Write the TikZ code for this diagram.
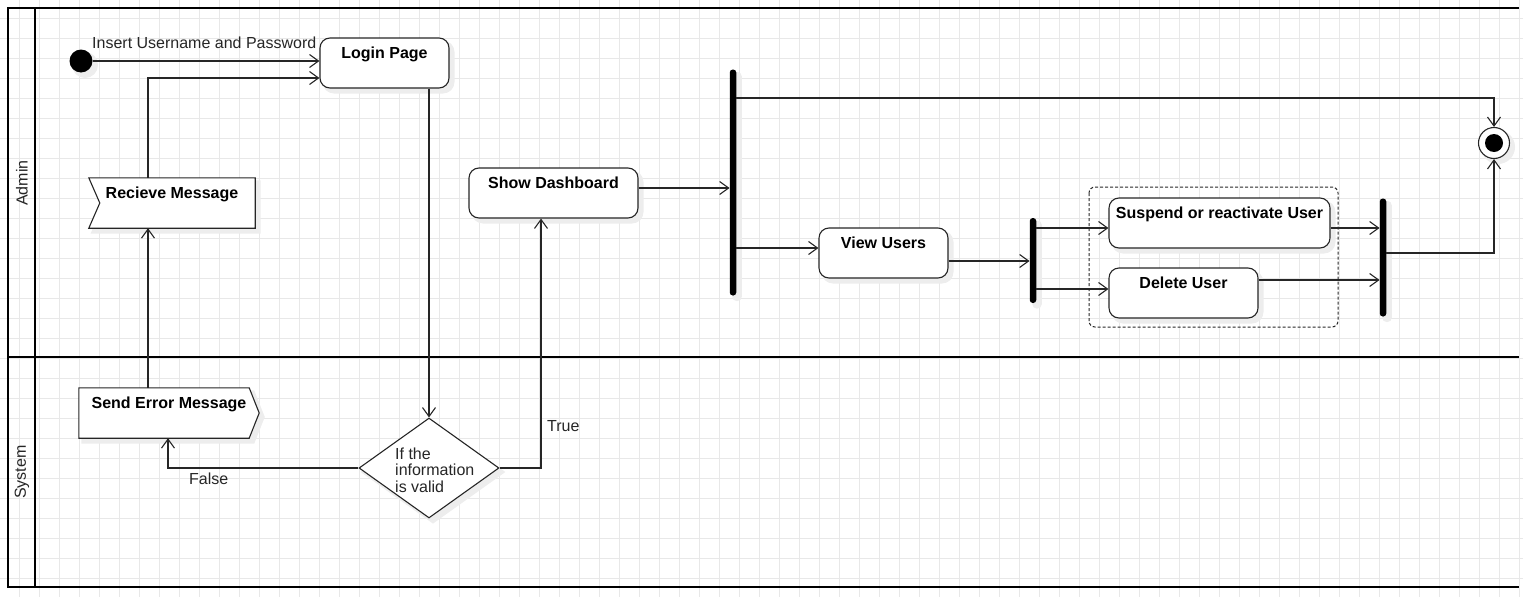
\documentclass[tikz,border=0pt]{standalone}
\usepackage{fontspec}
\setmainfont{Liberation Sans}
\usetikzlibrary{arrows.meta,shapes.geometric}

\newcommand{\diagfont}{\fontsize{16}{16.5}\selectfont}

\tikzset{
  gridline/.style={draw=black!9, line width=0.8pt},
  lane/.style={draw=black, line width=2.9pt},
  shadowed/.style={preaction={draw=black!7, fill=black!7, line width=3pt, transform canvas={shift={(4pt,-4pt)}}}},
  act/.style={draw=black!85, line width=1.1pt, rounded corners=10pt, fill=white, shadowed,
    minimum height=50pt, text height=12pt, text depth=20.6pt, inner xsep=0pt, font=\diagfont\bfseries},
  msg/.style={minimum height=50pt, text height=12pt, text depth=20.6pt, inner xsep=0pt, font=\diagfont\bfseries},
  msgline/.style={draw=black!85, line width=1.1pt, fill=white, shadowed},
  bar/.style={fill=black, minimum width=6.5pt, inner sep=0pt, rounded corners=3pt, shadowed},
  cond/.style={diamond, draw=black!85, line width=1.1pt, fill=white, shadowed,
    minimum width=140pt, minimum height=100pt, inner sep=0pt},
  startnode/.style={circle, fill=black, minimum size=23pt, inner sep=0pt, shadowed},
  endnode/.style={circle, draw=black!85, line width=1.1pt, fill=white, minimum size=31pt, inner sep=0pt, shadowed,
    path picture={\fill[black] (path picture bounding box.center) circle (9pt);}},
  group/.style={draw=black!85, line width=1pt, dash pattern=on 3pt off 2pt, rounded corners=6pt},
  flow/.style={draw=black!85, line width=1.1pt, -{Straight Barb[length=9pt,width=13pt,line width=1.1pt]}},
  lbl/.style={inner sep=0pt, text=black!85, font=\diagfont},
}

\begin{document}
\begin{tikzpicture}[x=1pt,y=1pt,yscale=-1]
\useasboundingbox (0,0) rectangle (1523,597);

% grid
\foreach \gx in {19,39,...,1519} \draw[gridline] (\gx,0) -- (\gx,597);
\foreach \gy in {18,38,...,578} \draw[gridline] (0,\gy) -- (1523,\gy);

% pool and lanes
\draw[lane] (1519,8) -- (8,8) -- (8,587) -- (1519,587);
\draw[lane] (35,8) -- (35,587);
\draw[lane] (8,357) -- (1519,357);
\node[lbl, rotate=90] (admin) at (22,183) {Admin};
\node[lbl, rotate=90] (system) at (22,472) {System};

% Admin lane
\node[startnode] (init) at (81,61) {};
\node[act, minimum width=129pt] (login) at (384.5,63) {Login Page};
\node[msg, minimum width=166pt] (recv) at (172,203) {};
\draw[msgline] (recv.north west) -- (recv.north east) -- (recv.south east) -- (recv.south west)
  -- ([xshift=11pt]recv.west) -- cycle;
\node[msg, minimum width=166pt] (recvtxt) at (172,203) {Recieve Message};
\node[act, minimum width=169pt] (dash) at (553.5,193) {Show Dashboard};
\node[bar, minimum height=226pt] (fork) at (733,182.5) {};
\node[act, minimum width=129pt] (view) at (883.5,253) {View Users};
\node[bar, minimum height=85pt] (split) at (1033,260.5) {};
\draw[group] (1089,187) rectangle (1338,327);
\node[act, minimum width=221pt] (susp) at (1219.5,223) {Suspend or reactivate User};
\node[act, minimum width=149pt] (del) at (1183.5,293) {Delete User};
\node[bar, minimum height=118pt] (join) at (1383,257.5) {};
\node[endnode] (final) at (1494,143) {};

% System lane
\node[msg, minimum width=180pt] (err) at (169,413) {};
\draw[msgline] (err.north west) -- ([xshift=-10pt]err.north east) -- (err.east)
  -- ([xshift=-10pt]err.south east) -- (err.south west) -- cycle;
\node[msg, minimum width=180pt] (errtxt) at (169,413) {Send Error Message};
\node[cond] (valid) at (429,468) {};
\node[lbl, align=left, anchor=north west] (validtxt) at (395,447.5) {If the\\information\\is valid};

% connectors
\draw[flow] (init) -- (init -| login.west);
\node[lbl, anchor=base west] (insert) at (92,48) {Insert Username and Password};
\draw[flow] ([xshift=-24pt]recv.north) |- (login.west |- 0,78);
\draw[flow] (login.south -| valid) -- (valid.north);
\draw[flow] (valid.west) -| ([xshift=-1pt]err.south);
\node[lbl, anchor=base west] (false) at (189,484) {False};
\draw[flow] (valid.east) -| ([xshift=-12.5pt]dash.south);
\node[lbl, anchor=base west] (true) at (547,431) {True};
\draw[flow] ([xshift=-21pt]err.north) -- ([xshift=-24pt]recv.south);
\draw[flow] (dash.east |- 0,188) -- (fork.west |- 0,188);
\draw[flow] (fork.east |- 0,98) -| (final.north);
\draw[flow] (fork.east |- 0,248) -- (view.west |- 0,248);
\draw[flow] (view.east |- 0,261) -- (split.west |- 0,261);
\draw[flow] (split.east |- 0,228) -- (susp.west |- 0,228);
\draw[flow] (split.east |- 0,289) -- (del.west |- 0,289);
\draw[flow] (susp.east |- 0,228) -- (join.west |- 0,228);
\draw[flow] (del.east |- 0,280) -- (join.west |- 0,280);
\draw[flow] (join.east |- 0,253) -| (final.south);

\end{tikzpicture}
\end{document}
